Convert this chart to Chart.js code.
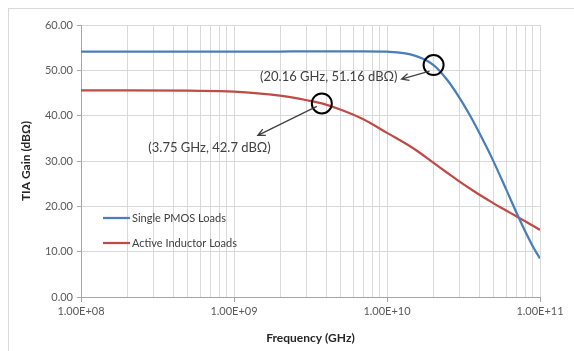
<!DOCTYPE html>
<html><head><meta charset="utf-8">
<script src="https://cdn.jsdelivr.net/npm/chart.js@4.4.0/dist/chart.umd.min.js"></script>
<style>html,body{margin:0;padding:0;background:#fff;overflow:hidden}#wrap{position:relative;width:574px;height:351px}</style>
</head><body><div id="wrap"><canvas id="c" width="574" height="351"></canvas></div>
<script>
// Frequencies (Hz)
const frequencies = [1e8, 2e8, 5e8, 1e9, 2e9, 3e9, 3.75e9, 5e9, 7e9, 1e10, 1.5e10, 2.016e10, 2.5e10, 3e10, 3.6e10, 4e10, 4.5e10, 5e10, 6e10, 7e10, 8e10, 9e10, 1e11];
// TIA gain (dBOhm)
const singlePmosGain     = [54.1, 54.1, 54.1, 54.1, 54.15, 54.2, 54.2, 54.2, 54.2, 54.1, 53.3, 51.16, 47.7, 43.75, 39.2, 36.3, 32.9, 29.7, 23.8, 18.7, 14.5, 11.1, 8.5];
const activeInductorGain = [45.6, 45.6, 45.5, 45.3, 44.4, 43.4, 42.7, 41.3, 39.2, 36.2, 32.7, 29.6, 27.3, 25.4, 23.6, 22.6, 21.55, 20.6, 19.1, 17.8, 16.7, 15.7, 14.8];
const seriesLabels = ['Single PMOS Loads', 'Active Inductor Loads'];
const seriesColors = ['#4a7ebb', '#be4b48'];
const yTickValues = [0, 10, 20, 30, 40, 50, 60];
const xDecades = [1e8, 1e9, 1e10, 1e11];
const callouts = [
  {f: 20.16e9, g: 51.16, text: '(20.16 GHz, 51.16 dB\u03A9)'},
  {f: 3.75e9,  g: 42.7,  text: '(3.75 GHz, 42.7 dB\u03A9)'}
];
// callout drawing style (pixel offsets relative to the marked point)
const calloutStyle = [
  {arrowFrom: [-4, 6], arrowTo: [-32, 14], textX: -36, textY: 12, align: 'right'},
  {arrowFrom: [-5, 3], arrowTo: [-64, 32], textX: -51, textY: 44, align: 'right'}
];

const FONT = 'Lato, "Open Sans", sans-serif';

function fmtSci(v) {
  const e = Math.round(Math.log10(v));
  const m = v / Math.pow(10, e);
  return m.toFixed(2) + 'E' + (e >= 0 ? '+' : '-') + String(Math.abs(e)).padStart(2, '0');
}
function isDecade(v) {
  const l = Math.log10(v);
  return Math.abs(l - Math.round(l)) < 1e-9;
}

const borderPlugin = {
  id: 'outerBorder',
  beforeDraw(chart) {
    const c = chart.ctx;
    c.save();
    c.fillStyle = '#fff';
    c.fillRect(0, 0, chart.width, chart.height);
    c.strokeStyle = '#d9d9d9';
    c.lineWidth = 1;
    c.strokeRect(8.5, 8.5, 640, 420);
    c.restore();
  }
};

const legendPlugin = {
  id: 'innerLegend',
  afterDatasetsDraw(chart) {
    const c = chart.ctx, a = chart.chartArea;
    c.save();
    chart.data.datasets.forEach((ds, i) => {
      const y = a.top + 193 + i * 25;
      c.strokeStyle = ds.borderColor;
      c.lineWidth = 2.25;
      c.beginPath();
      c.moveTo(a.left + 22, y);
      c.lineTo(a.left + 49, y);
      c.stroke();
      c.fillStyle = '#404040';
      c.font = '11px ' + FONT;
      c.textAlign = 'left';
      c.textBaseline = 'middle';
      c.fillText(ds.label, a.left + 51, y);
    });
    c.restore();
  }
};

const calloutPlugin = {
  id: 'callouts',
  afterDatasetsDraw(chart) {
    const c = chart.ctx, xs = chart.scales.x, ys = chart.scales.y;
    c.save();
    callouts.forEach((co, i) => {
      const st = calloutStyle[i];
      const px = xs.getPixelForValue(co.f), py = ys.getPixelForValue(co.g);
      c.strokeStyle = '#000';
      c.lineWidth = 2;
      c.beginPath();
      c.arc(px, py, 10, 0, Math.PI * 2);
      c.stroke();
      const x1 = px + st.arrowFrom[0], y1 = py + st.arrowFrom[1];
      const x2 = px + st.arrowTo[0], y2 = py + st.arrowTo[1];
      c.strokeStyle = '#404040';
      c.lineWidth = 1.3;
      c.beginPath();
      c.moveTo(x1, y1);
      c.lineTo(x2, y2);
      const ang = Math.atan2(y2 - y1, x2 - x1);
      const hl = 8;
      c.moveTo(x2 - hl * Math.cos(ang - 0.45), y2 - hl * Math.sin(ang - 0.45));
      c.lineTo(x2, y2);
      c.lineTo(x2 - hl * Math.cos(ang + 0.45), y2 - hl * Math.sin(ang + 0.45));
      c.stroke();
      c.fillStyle = '#404040';
      c.font = '13px ' + FONT;
      c.textAlign = st.align;
      c.textBaseline = 'middle';
      c.fillText(co.text, px + st.textX, py + st.textY);
    });
    c.restore();
  }
};

const datasets = [singlePmosGain, activeInductorGain].map((vals, i) => ({
  label: seriesLabels[i],
  data: frequencies.map((f, k) => ({x: f, y: vals[k]})),
  borderColor: seriesColors[i],
  backgroundColor: seriesColors[i],
  borderWidth: 2.25,
  pointRadius: 0,
  cubicInterpolationMode: 'monotone',
  fill: false
}));

new Chart(document.getElementById('c'), {
  type: 'line',
  data: {datasets},
  options: {
    responsive: false,
    animation: false,
    layout: {padding: {left: 8, top: 25, right: 34, bottom: 6}},
    plugins: {legend: {display: false}, tooltip: {enabled: false}},
    scales: {
      x: {
        type: 'logarithmic',
        min: xDecades[0],
        max: xDecades[xDecades.length - 1],
        afterBuildTicks(scale) {
          const t = [];
          for (let d = 0; d < xDecades.length - 1; d++) {
            for (let m = 1; m <= 9; m++) t.push({value: xDecades[d] * m});
          }
          t.push({value: xDecades[xDecades.length - 1]});
          scale.ticks = t;
        },
        afterFit(scale) { scale.height = 48; },
        ticks: {
          autoSkip: false, maxRotation: 0, minRotation: 0, padding: 3,
          color: '#595959', font: {family: FONT, size: 11},
          callback: (v) => isDecade(v) ? fmtSci(v) : ''
        },
        grid: {
          color: '#d9d9d9', lineWidth: 1, drawTicks: true, tickLength: 5,
          tickColor: (ctx) => (ctx.tick && isDecade(ctx.tick.value)) ? '#a6a6a6' : 'rgba(0,0,0,0)'
        },
        border: {color: '#a6a6a6', width: 1},
        title: {display: true, text: 'Frequency (GHz)', color: '#262626', font: {family: FONT, size: 12, weight: 'bold'}, padding: {top: 6, bottom: 0}}
      },
      y: {
        min: 0, max: 60,
        afterBuildTicks(scale) { scale.ticks = yTickValues.map(v => ({value: v})); },
        afterFit(scale) { scale.width = 73; },
        ticks: {
          padding: 4, color: '#595959', font: {family: FONT, size: 11},
          callback: (v) => Number(v).toFixed(2)
        },
        grid: {color: '#d9d9d9', lineWidth: 1, drawTicks: true, tickLength: 4, tickColor: '#a6a6a6'},
        border: {color: '#a6a6a6', width: 1},
        title: {display: true, text: 'TIA Gain (dB\u03A9)', color: '#262626', font: {family: FONT, size: 12, weight: 'bold'}, padding: {top: 11, bottom: 0}}
      }
    }
  },
  plugins: [borderPlugin, calloutPlugin, legendPlugin]
});
</script>
</body></html>
